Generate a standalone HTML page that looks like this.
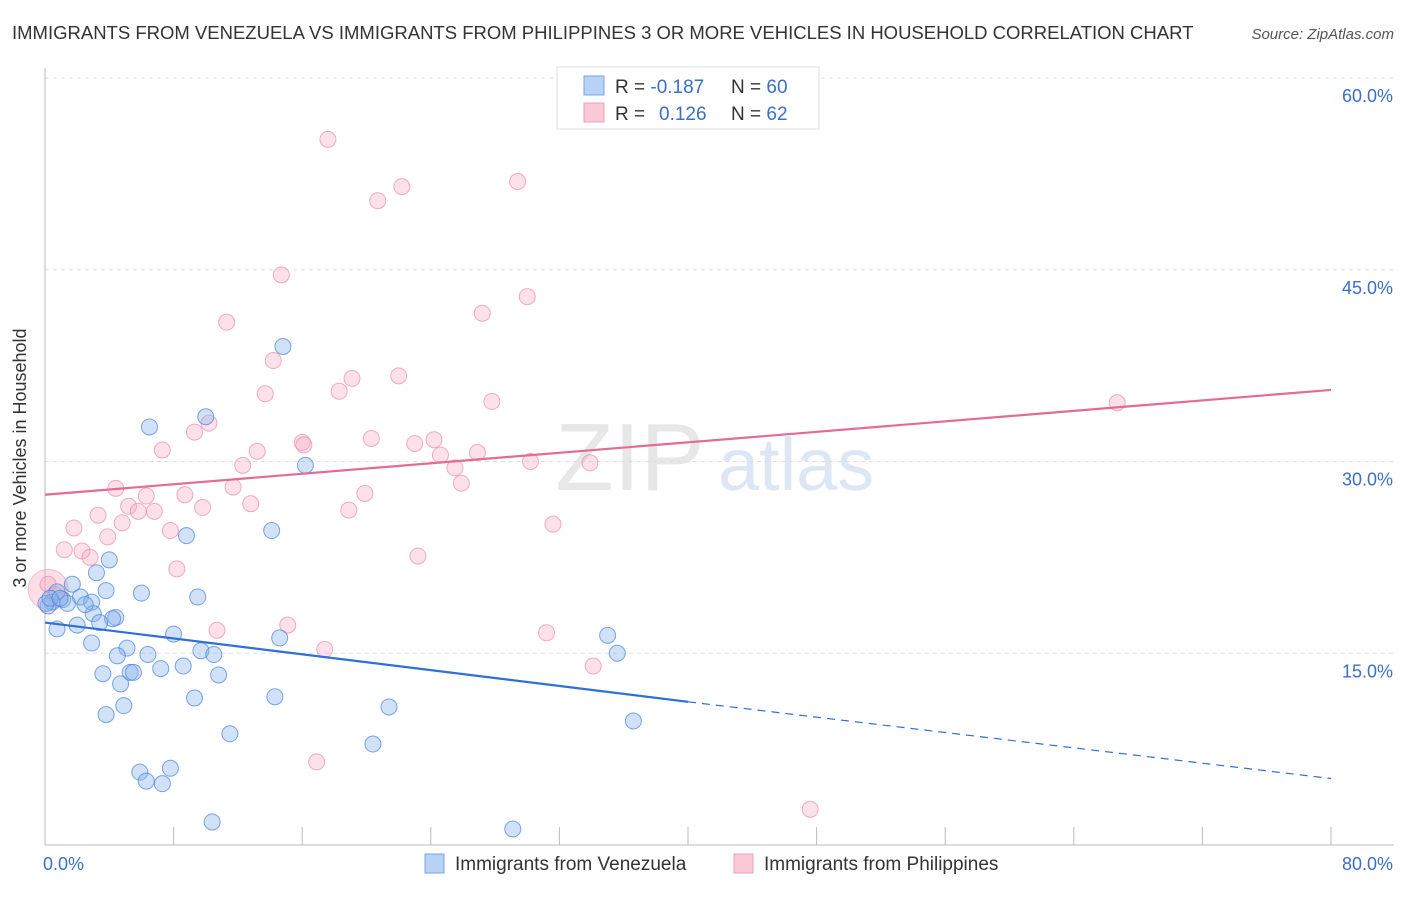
<!DOCTYPE html>
<html><head><meta charset="utf-8"><style>
body{margin:0;background:#fff;font-family:"Liberation Sans",sans-serif;}
svg text{font-family:"Liberation Sans",sans-serif;}
</style></head><body>
<svg id="chart" width="1406" height="892" xmlns="http://www.w3.org/2000/svg">
<text x="12" y="39" font-size="18.5" fill="#333">IMMIGRANTS FROM VENEZUELA VS IMMIGRANTS FROM PHILIPPINES 3 OR MORE VEHICLES IN HOUSEHOLD CORRELATION CHART</text>
<text x="1394" y="39" font-size="15" fill="#555" font-style="italic" text-anchor="end">Source: ZipAtlas.com</text>
<text x="26" y="458" font-size="18" fill="#333" text-anchor="middle" transform="rotate(-90 26 458)">3 or more Vehicles in Household</text>
<g><text x="555" y="490" font-size="96" fill="#d8d8d8" font-family="Liberation Serif" opacity="0.6">ZIP</text><text x="718" y="490" font-size="74" fill="#c5d6ef" opacity="0.6">atlas</text></g>
<g id="grid"></g><g id="axes"></g><g id="trend"></g><g id="pts"></g>
<g>
<rect x="557" y="67" width="262" height="62" fill="#fff" stroke="#ddd"/>
<rect x="584" y="76" width="20" height="19" fill="#b8d2f5" stroke="#7aa4e0"/>
<rect x="584" y="103" width="20" height="19" fill="#fbc8d7" stroke="#eea0b8"/>
<text x="615" y="93" font-size="19" fill="#333">R = <tspan fill="#3a6fc8">-0.187</tspan><tspan x="731">N = </tspan><tspan fill="#3a6fc8">60</tspan></text>
<text x="615" y="120" font-size="19" fill="#333">R = <tspan x="659" fill="#3a6fc8">0.126</tspan><tspan x="731">N = </tspan><tspan fill="#3a6fc8">62</tspan></text>
</g>
<g>
<rect x="425" y="854" width="19" height="19" fill="#b8d2f5" stroke="#7aa4e0"/>
<text x="455" y="870" font-size="19" fill="#333">Immigrants from Venezuela</text>
<rect x="734" y="854" width="19" height="19" fill="#fbc8d7" stroke="#eea0b8"/>
<text x="764" y="870" font-size="19" fill="#333">Immigrants from Philippines</text>
</g>
</svg>
<script>
const yTicks=[15,30,45,60];
const yTickLabels=["15.0%","30.0%","45.0%","60.0%"];
const xTickLabels=["0.0%","80.0%"];
const blueX=[6.5,10.0,14.8,16.2,8.8,14.1,4.0,3.2,1.7,6.0,9.5,3.8,2.2,1.1,0.75,0.44,0.19,1.4,2.9,3.0,4.4,4.2,3.4,2.0,0.75,8.0,14.6,35.0,2.9,5.1,6.4,9.7,10.5,4.5,35.6,3.6,5.3,5.5,7.2,8.6,10.8,4.7,9.3,14.3,21.4,4.9,3.8,36.6,11.5,20.4,5.9,7.8,6.3,7.3,10.4,29.1,0.06,0.31,0.93,2.5];
const blueY=[32.7,33.5,39.0,29.7,24.2,24.6,22.3,21.3,20.4,19.7,19.4,19.9,19.4,19.2,19.8,19.0,18.7,18.9,19.0,18.1,17.8,17.7,17.4,17.2,16.9,16.5,16.2,16.4,15.8,15.4,14.9,15.2,14.9,14.8,15.0,13.4,13.5,13.5,13.8,14.0,13.3,12.6,11.5,11.6,10.8,10.9,10.2,9.7,8.7,7.9,5.7,6.0,5.0,4.8,1.8,1.25,18.9,19.3,19.3,18.8];
const pinkX=[17.6,29.4,22.2,20.7,14.7,30.0,27.2,11.3,14.2,22.0,19.1,18.3,13.7,27.8,10.2,9.3,16.0,16.1,20.3,23.0,24.2,24.6,26.9,7.3,13.2,12.3,25.5,30.2,33.9,25.9,11.7,19.9,4.4,8.7,6.3,9.8,12.8,5.2,18.9,3.3,5.8,6.8,4.8,1.8,31.6,7.8,3.9,1.2,2.3,2.8,23.2,8.2,0.19,0.62,15.1,10.7,31.2,17.4,34.1,16.9,47.6,66.7];
const pinkY=[55.2,51.9,51.5,50.4,44.6,42.9,41.6,40.9,37.9,36.7,36.5,35.5,35.3,34.7,33.0,32.3,31.5,31.3,31.8,31.4,31.7,30.5,30.7,30.9,30.8,29.7,29.5,30.0,29.9,28.3,28.0,27.5,27.9,27.4,27.3,26.4,26.7,26.5,26.2,25.8,26.1,26.1,25.2,24.8,25.1,24.6,24.1,23.1,23.0,22.5,22.6,21.6,20.4,19.6,17.2,16.8,16.6,15.3,14.0,6.5,2.8,34.6];
const blueTrend=[17.4,11.2,5.2]; // at x=0, 40, 80
const pinkTrend=[27.4,35.6];      // at x=0, 80
const NS="http://www.w3.org/2000/svg";
const X0=45,X1=1331,Y0=845,YT=60,YTpx=78;
const sx=v=>X0+(v/80)*(X1-X0);
const sy=v=>Y0-(v/YT)*(Y0-YTpx);
function mk(tag,attrs,parent){const e=document.createElementNS(NS,tag);for(const k in attrs)e.setAttribute(k,attrs[k]);document.getElementById(parent).appendChild(e);return e;}
yTicks.forEach((t,i)=>{
 const l=mk('line',{x1:X0,x2:1394,y1:sy(t),y2:sy(t),stroke:'#ddd','stroke-dasharray':'4,4'},'grid');
 
 
 const tx=mk('text',{x:1393,y:sy(t)+24,'font-size':18,fill:'#3a6fc8','text-anchor':'end'},'grid');
 tx.textContent=yTickLabels[i];
 
 
});
const ax=mk('line',{x1:X0,x2:1394,y1:Y0,y2:Y0,stroke:'#bbb'},'axes');


const ay=mk('line',{x1:X0,x2:X0,y1:68,y2:Y0,stroke:'#bbb'},'axes');


for(let i=0;i<=10;i++){
 const t=mk('line',{x1:sx(i*8),x2:sx(i*8),y1:Y0,y2:Y0-18,stroke:'#bbb'},'axes');
 
 
}
[[0,X0-2,'start'],[80,1393,'end']].forEach((d,i)=>{
 const t=mk('text',{x:d[1],y:870,'font-size':18,fill:'#3a6fc8','text-anchor':d[2]},'axes');
 t.textContent=xTickLabels[i];
 
 
});
const big=mk('circle',{cx:sx(0.2),cy:sy(20.0),r:20,fill:'rgba(247,160,185,0.35)',stroke:'rgba(235,140,170,0.5)'},'pts');


pinkX.forEach((v,i)=>{
 const c=mk('circle',{cx:sx(v),cy:sy(pinkY[i]),r:8,fill:'rgba(247,170,195,0.35)',stroke:'rgba(235,140,170,0.7)'},'pts');
 
 
});
blueX.forEach((v,i)=>{
 const c=mk('circle',{cx:sx(v),cy:sy(blueY[i]),r:8,fill:'rgba(140,180,235,0.4)',stroke:'rgba(70,130,220,0.7)'},'pts');
 
 
});
const b1=mk('line',{x1:sx(0),y1:sy(blueTrend[0]),x2:sx(40),y2:sy(blueTrend[1]),stroke:'#2f6fd6','stroke-width':2.2},'trend');


const b2=mk('line',{x1:sx(40),y1:sy(blueTrend[1]),x2:sx(80),y2:sy(blueTrend[2]),stroke:'#2f6fd6','stroke-width':1.2,'stroke-dasharray':'8,6'},'trend');


const p1=mk('line',{x1:sx(0),y1:sy(pinkTrend[0]),x2:sx(80),y2:sy(pinkTrend[1]),stroke:'#e46b93','stroke-width':2.2},'trend');


document.getElementById('chart').appendChild(document.getElementById('trend'));
</script>
</body></html>
